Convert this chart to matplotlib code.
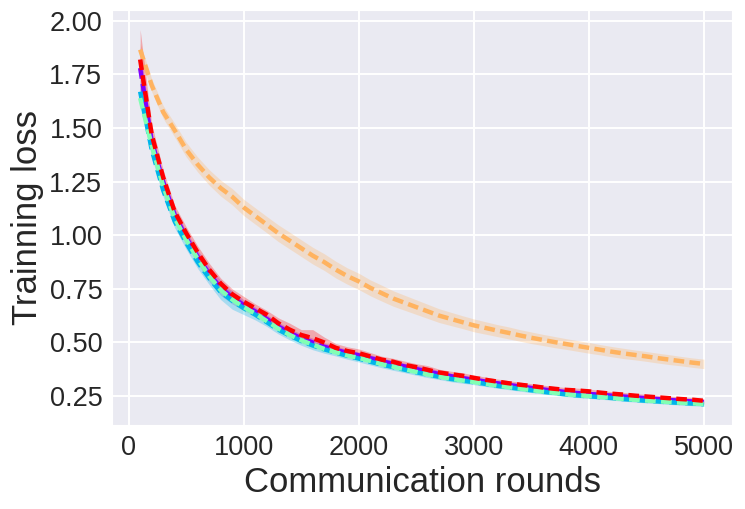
import numpy as np
import matplotlib
matplotlib.use("Agg")
import matplotlib.pyplot as plt
import seaborn as sns

sns.set_style("darkgrid")
plt.rcParams['font.family'] = ['Liberation Sans', 'DejaVu Sans']
plt.rcParams['grid.linewidth'] = 1.4

rounds = list(range(100, 5001, 100))

# five runs, coloured along the rainbow map (purple -> red)
loss_purple = [1.78, 1.44, 1.25, 1.095, 0.99, 0.90, 0.82, 0.755, 0.71, 0.675,
               0.645, 0.61, 0.575, 0.545, 0.52, 0.50, 0.48, 0.465, 0.452, 0.44,
               0.427, 0.413, 0.40, 0.388, 0.376, 0.364, 0.353, 0.343, 0.334, 0.326,
               0.318, 0.31, 0.302, 0.295, 0.288, 0.281, 0.275, 0.269, 0.264, 0.26,
               0.256, 0.252, 0.248, 0.244, 0.24, 0.236, 0.232, 0.228, 0.225, 0.222]
loss_blue = [1.67, 1.40, 1.21, 1.065, 0.965, 0.875, 0.80, 0.735, 0.695, 0.66,
             0.63, 0.595, 0.56, 0.532, 0.507, 0.486, 0.468, 0.453, 0.438, 0.425,
             0.41, 0.397, 0.385, 0.373, 0.361, 0.35, 0.34, 0.33, 0.322, 0.315,
             0.307, 0.298, 0.291, 0.284, 0.277, 0.27, 0.264, 0.258, 0.253, 0.249,
             0.245, 0.241, 0.236, 0.232, 0.228, 0.225, 0.221, 0.218, 0.215, 0.212]
loss_green = [1.64, 1.42, 1.23, 1.08, 0.98, 0.89, 0.81, 0.745, 0.70, 0.665,
              0.635, 0.60, 0.565, 0.535, 0.51, 0.49, 0.47, 0.455, 0.44, 0.428,
              0.414, 0.399, 0.387, 0.375, 0.363, 0.351, 0.341, 0.331, 0.323, 0.316,
              0.308, 0.299, 0.292, 0.285, 0.278, 0.271, 0.265, 0.259, 0.254, 0.25,
              0.246, 0.242, 0.237, 0.233, 0.229, 0.226, 0.222, 0.219, 0.216, 0.213]
loss_orange = [1.866, 1.70, 1.575, 1.49, 1.40, 1.33, 1.27, 1.22, 1.18, 1.13,
               1.09, 1.05, 1.01, 0.975, 0.94, 0.905, 0.875, 0.84, 0.81, 0.785,
               0.755, 0.73, 0.705, 0.685, 0.665, 0.645, 0.625, 0.61, 0.595, 0.58,
               0.568, 0.556, 0.545, 0.533, 0.522, 0.512, 0.502, 0.493, 0.484, 0.475,
               0.466, 0.457, 0.449, 0.442, 0.435, 0.427, 0.42, 0.413, 0.406, 0.40]
loss_red = [1.82, 1.47, 1.27, 1.11, 1.01, 0.92, 0.84, 0.775, 0.725, 0.69,
            0.66, 0.63, 0.59, 0.56, 0.535, 0.52, 0.50, 0.475, 0.46, 0.45,
            0.435, 0.42, 0.41, 0.395, 0.385, 0.372, 0.36, 0.352, 0.345, 0.335,
            0.326, 0.318, 0.31, 0.303, 0.297, 0.29, 0.284, 0.279, 0.276, 0.272,
            0.266, 0.261, 0.257, 0.252, 0.248, 0.244, 0.24, 0.236, 0.233, 0.228]

# spread over seeds (half width of the shaded band)
std_purple = [0.10, 0.04, 0.03, 0.03, 0.03, 0.03, 0.035, 0.035, 0.03, 0.025,
              0.02, 0.02, 0.02, 0.02, 0.02, 0.02, 0.018, 0.018, 0.016, 0.016,
              0.016, 0.015, 0.015, 0.015, 0.018, 0.02, 0.015, 0.014, 0.013, 0.013,
              0.012, 0.012, 0.012, 0.011, 0.011, 0.011, 0.01, 0.01, 0.01, 0.01,
              0.01, 0.01, 0.01, 0.01, 0.01, 0.01, 0.01, 0.01, 0.01, 0.01]
std_blue = [0.06, 0.035, 0.03, 0.03, 0.03, 0.03, 0.03, 0.035, 0.04, 0.03,
            0.025, 0.02, 0.02, 0.02, 0.02, 0.02, 0.018, 0.016, 0.016, 0.016,
            0.015, 0.015, 0.015, 0.014, 0.014, 0.014, 0.013, 0.013, 0.012, 0.012,
            0.012, 0.011, 0.011, 0.011, 0.011, 0.01, 0.01, 0.01, 0.01, 0.01,
            0.01, 0.01, 0.01, 0.01, 0.01, 0.01, 0.01, 0.01, 0.01, 0.01]
std_green = [0.05, 0.03, 0.025, 0.025, 0.025, 0.025, 0.025, 0.025, 0.02, 0.02,
             0.018, 0.016, 0.016, 0.015, 0.015, 0.015, 0.014, 0.014, 0.013, 0.013,
             0.012, 0.012, 0.012, 0.012, 0.011, 0.011, 0.011, 0.011, 0.01, 0.01,
             0.01, 0.01, 0.01, 0.01, 0.01, 0.01, 0.009, 0.009, 0.009, 0.009,
             0.009, 0.009, 0.009, 0.009, 0.009, 0.009, 0.009, 0.009, 0.009, 0.009]
std_orange = [0.03, 0.03, 0.03, 0.032, 0.034, 0.035, 0.036, 0.037, 0.038, 0.038,
              0.038, 0.038, 0.039, 0.039, 0.039, 0.039, 0.039, 0.039, 0.038, 0.038,
              0.037, 0.037, 0.036, 0.035, 0.034, 0.033, 0.032, 0.031, 0.03, 0.03,
              0.029, 0.028, 0.028, 0.027, 0.027, 0.026, 0.026, 0.025, 0.025, 0.025,
              0.024, 0.024, 0.024, 0.023, 0.023, 0.023, 0.023, 0.022, 0.022, 0.022]
std_red = [0.14, 0.05, 0.035, 0.03, 0.03, 0.03, 0.03, 0.025, 0.025, 0.025,
           0.02, 0.02, 0.025, 0.03, 0.025, 0.04, 0.025, 0.02, 0.02, 0.02,
           0.018, 0.016, 0.016, 0.018, 0.016, 0.02, 0.015, 0.014, 0.014, 0.013,
           0.013, 0.012, 0.012, 0.012, 0.011, 0.011, 0.011, 0.011, 0.011, 0.011,
           0.01, 0.01, 0.01, 0.01, 0.01, 0.01, 0.01, 0.01, 0.01, 0.01]

runs = [(loss_purple, std_purple), (loss_blue, std_blue), (loss_green, std_green),
        (loss_orange, std_orange), (loss_red, std_red)]
colores = plt.cm.rainbow(np.linspace(0, 1, len(runs)))

fig = plt.figure(figsize=(7.45, 5.09), dpi=100)
ax = fig.add_axes([0.1503, 0.165, 0.8323, 0.815])

x = np.array(rounds)
for (media, std), c in zip(runs, colores):
    media = np.array(media)
    std = np.array(std)
    ax.fill_between(x, media - std, media + std, color=c, alpha=0.28, linewidth=0)
    ax.plot(x, media, color=c, linewidth=3.2, linestyle=(0, (2.4, 1.2)))

ax.set_xlim(-145, 5245)
ax.set_ylim(0.115, 2.05)
ax.set_yticks([0.25, 0.5, 0.75, 1.0, 1.25, 1.5, 1.75, 2.0])
ax.tick_params(labelsize=19.5)
ax.set_xlabel("Communication rounds", fontsize=25)
ax.set_ylabel("Trainning loss", fontsize=25)

fig.savefig("out.png", dpi=100)
